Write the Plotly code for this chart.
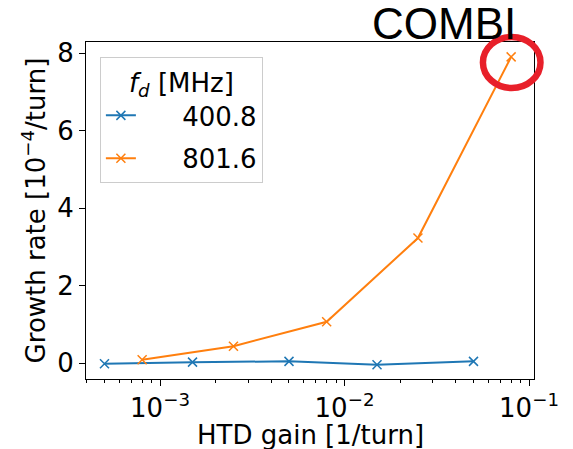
import plotly.graph_objects as go
import numpy as np

# Data
gain_400 = [5e-4, 1.5e-3, 5e-3, 1.5e-2, 5e-2]
rate_400 = [-0.01, 0.03, 0.05, -0.04, 0.05]
gain_800 = [8e-4, 2.5e-3, 8e-3, 2.5e-2, 8e-2]
rate_800 = [0.09, 0.44, 1.07, 3.23, 7.9]
series_names = ["400.8", "801.6"]
colors = ["#1f77b4", "#ff7f0e"]
x_tickvals = [1e-3, 1e-2, 1e-1]
x_ticktext = ["10<sup>−3</sup>", "10<sup>−2</sup>", "10<sup>−1</sup>"]
y_tickvals = [0, 2, 4, 6, 8]

FONT = "DejaVu Sans"
FS = 26
PAD = "\u00a0" * 5

fig = go.Figure()
for i, (xs, ys, name, c) in enumerate([(gain_400, rate_400, series_names[0], colors[0]),
                                       (gain_800, rate_800, series_names[1], colors[1])]):
    fig.add_trace(go.Scatter(
        x=xs, y=ys, name=PAD + name, mode="lines+markers", legendgroup=f"g{i}",
        line=dict(color=c, width=2),
        marker=dict(symbol="x-thin", size=9, line=dict(color=c, width=1.5)),
    ))

minor_vals = [m * 10.0 ** e for e in range(-4, 0) for m in range(2, 10)]

fig.update_xaxes(
    type="log", range=[np.log10(3.97e-4), np.log10(1.064e-1)],
    tickvals=x_tickvals, ticktext=x_ticktext, automargin=False,
    ticks="outside", ticklen=6, tickwidth=1, tickcolor="black",
    minor=dict(tickmode="array", tickvals=minor_vals, ticks="outside",
               ticklen=3, tickwidth=1, tickcolor="black"),
    showgrid=False, zeroline=False, showline=True, linecolor="black",
    linewidth=1, mirror=True,
    tickfont=dict(family=FONT, size=FS, color="black"),
)
fig.update_yaxes(
    range=[-0.405, 8.284], tickvals=y_tickvals, automargin=False,
    ticks="outside", ticklen=6, tickwidth=1, tickcolor="black",
    showgrid=False, zeroline=False, showline=True, linecolor="black",
    linewidth=1, mirror=True,
    tickfont=dict(family=FONT, size=FS, color="black"),
    title=dict(text="Growth rate [10<sup>−4</sup>/turn]", font=dict(family=FONT, size=FS, color="black"), standoff=4),
)

# x-axis title
fig.add_annotation(
    text="HTD gain [1/turn]", xref="paper", yref="paper", x=0.5, y=-0.165,
    xanchor="center", yanchor="middle", showarrow=False,
    font=dict(family=FONT, size=FS, color="black"),
)
fig.add_annotation(
    text="COMBI", xref="paper", yref="paper", x=0.635, y=0.975,
    xanchor="left", yanchor="bottom", showarrow=False,
    font=dict(family="Liberation Sans", size=44, color="black"),
)
fig.add_shape(
    type="circle", xref="paper", yref="paper",
    x0=0.886, x1=1.0145, y0=0.8635, y1=1.015,
    line=dict(color="#e8202a", width=6.5),
)

fig.update_layout(
    width=573, height=449,
    margin=dict(l=86, r=39, t=42, b=70),
    plot_bgcolor="white", paper_bgcolor="white",
    font=dict(family=FONT, size=FS, color="black"),
    legend=dict(
        x=0.031, y=0.955, xanchor="left", yanchor="top",
        bgcolor="rgba(255,255,255,0.8)", bordercolor="#cccccc", borderwidth=1,
        font=dict(family=FONT, size=FS, color="black"),
        tracegroupgap=6,
        title=dict(text="<i>f</i><sub><i>d</i></sub> [MHz]", side="top center",
                   font=dict(family=FONT, size=FS, color="black")),
    ),
)

fig.write_html("out.html")
